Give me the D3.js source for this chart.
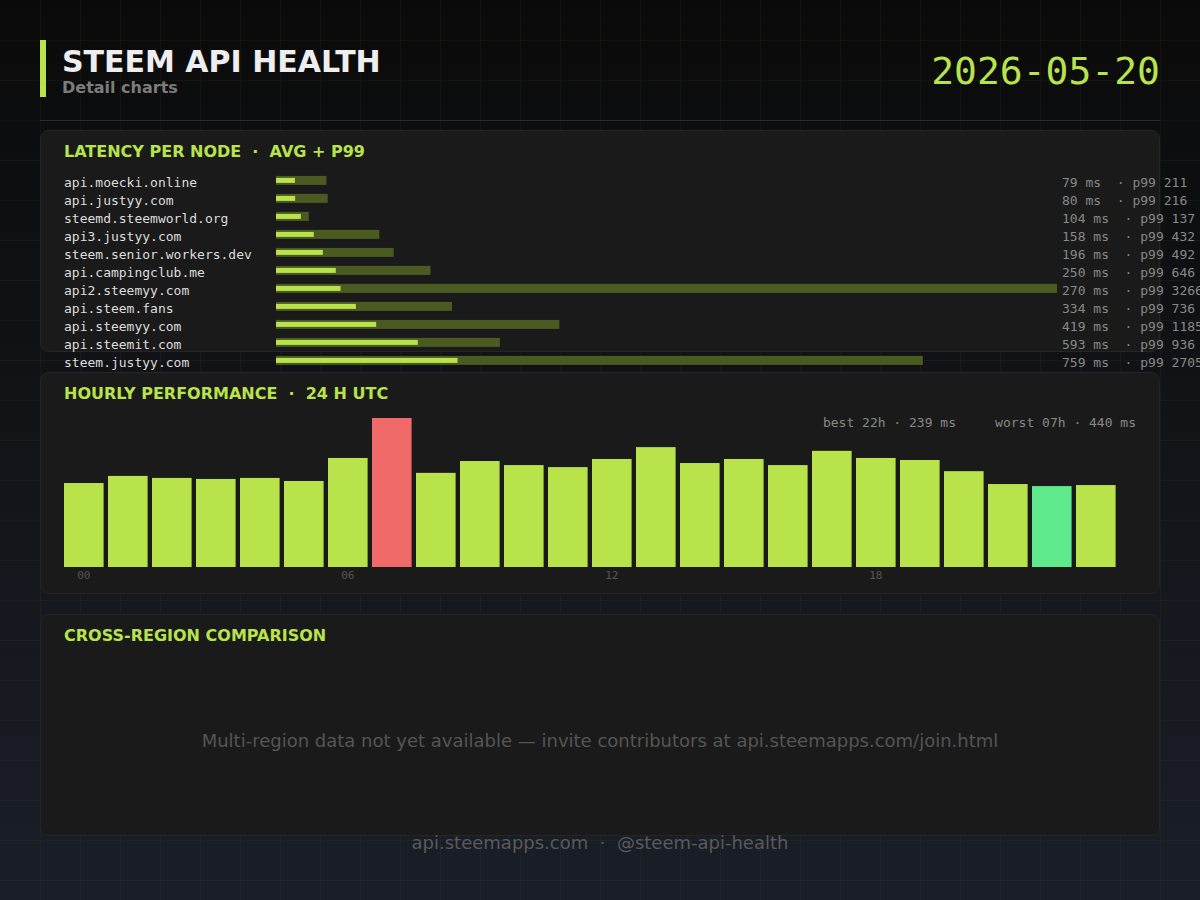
<!DOCTYPE html>
<html>
<head>
<meta charset="utf-8">
<script src="https://cdn.jsdelivr.net/npm/d3@7"></script>
<style>
  html, body { margin: 0; padding: 0; background: #0a0a0a; }
  svg { display: block; }
  text { white-space: pre; }
</style>
</head>
<body>
<svg id="chart" width="1200" height="900"></svg>
<script>
// latency per node (ms)
const nodes = ["api.moecki.online", "api.justyy.com", "steemd.steemworld.org", "api3.justyy.com",
    "steem.senior.workers.dev", "api.campingclub.me", "api2.steemyy.com", "api.steem.fans",
    "api.steemyy.com", "api.steemit.com", "steem.justyy.com"];
const avgMs = [79, 80, 104, 158, 196, 250, 270, 334, 419, 593, 759];
const p99Ms = [211, 216, 137, 432, 492, 646, 3266, 736, 1185, 936, 2705];

// hourly performance, 24h UTC (ms)
const hourLabels = ["00", "01", "02", "03", "04", "05", "06", "07", "08", "09", "10", "11",
    "12", "13", "14", "15", "16", "17", "18", "19", "20", "21", "22", "23"];
const hourlyMs = [248, 269, 263, 260, 263, 254, 322, 440, 278, 313, 301, 295,
    319, 354, 307, 319, 301, 343, 322, 316, 283, 245, 239, 242];
const hourTicks = ["00", "06", "12", "18"];

const reportDate = "2026-05-20";

const green = "#b8e34b";
const dimGreen = "#4b5a20";
const red = "#f06a6a";
const bestGreen = "#5eea8c";
const mono = "'DejaVu Sans Mono', monospace";
const sans = "'DejaVu Sans', sans-serif";

const svg = d3.select("#chart");

// background gradient + grid
let defs = svg.append("defs");
let grad = defs.append("linearGradient").attr("id", "bg").attr("x1", 0).attr("y1", 0).attr("x2", 0).attr("y2", 1);
grad.append("stop").attr("offset", "0%").attr("stop-color", "#0a0a0a");
grad.append("stop").attr("offset", "100%").attr("stop-color", "#1a1e27");
svg.append("rect").attr("width", 1200).attr("height", 900).attr("fill", "url(#bg)");

let grid = svg.append("g").attr("stroke", "rgba(184,227,75,0.045)").attr("stroke-width", 1);
grid.selectAll(".gx").data(d3.range(40, 1200, 40)).join("line")
    .attr("x1", d => d + 0.5).attr("x2", d => d + 0.5).attr("y1", 0).attr("y2", 900);
grid.selectAll(".gy").data(d3.range(40, 900, 40)).join("line")
    .attr("y1", d => d + 0.5).attr("y2", d => d + 0.5).attr("x1", 0).attr("x2", 1200);

// header
svg.append("rect").attr("x", 40).attr("y", 40).attr("width", 6).attr("height", 57).attr("fill", green);
svg.append("text").attr("x", 62).attr("y", 72).attr("font-family", sans).attr("font-weight", "bold")
    .attr("font-size", 30).attr("fill", "#eeeeee").text("STEEM API HEALTH");
svg.append("text").attr("x", 62).attr("y", 93).attr("font-family", sans).attr("font-weight", "bold")
    .attr("font-size", 16).attr("fill", "#7c7c7c").text("Detail charts");
svg.append("text").attr("x", 1160).attr("y", 84).attr("text-anchor", "end").attr("font-family", mono)
    .attr("font-size", 38).attr("fill", green).text(reportDate);
svg.append("line").attr("x1", 40).attr("x2", 1160).attr("y1", 120.5).attr("y2", 120.5)
    .attr("stroke", "#2a2a2a").attr("stroke-width", 1);

// panels
function panel(y, title) {
    svg.append("rect").attr("x", 40.5).attr("y", y + 0.5).attr("width", 1119).attr("height", 221)
        .attr("rx", 8).attr("fill", "#1a1a1a").attr("stroke", "#252525");
    svg.append("text").attr("x", 64).attr("y", y + 26.5).attr("font-family", sans).attr("font-weight", "bold")
        .attr("font-size", 16).attr("fill", green).text(title);
}
panel(130, "LATENCY PER NODE  ·  AVG + P99");
panel(372, "HOURLY PERFORMANCE  ·  24 H UTC");
panel(614, "CROSS-REGION COMPARISON");

/*********** LATENCY PER NODE ***********/
let x = d3.scaleLinear().domain([0, d3.max(p99Ms)]).range([276, 1057]);
let rows = svg.append("g").selectAll("g").data(nodes).join("g")
    .attr("transform", (d, i) => `translate(0,${180.4 + i * 18})`);
rows.append("text").attr("x", 64).attr("y", 6.3).attr("font-family", mono).attr("font-size", 13)
    .attr("fill", "#dddddd").text(d => d);
rows.append("rect").attr("x", x(0)).attr("y", -4.5).attr("height", 9)
    .attr("width", (d, i) => x(p99Ms[i]) - x(0)).attr("fill", dimGreen);
rows.append("rect").attr("x", x(0)).attr("y", -2.5).attr("height", 5)
    .attr("width", (d, i) => x(avgMs[i]) - x(0)).attr("fill", green);
rows.append("text").attr("x", 1062).attr("y", 6.3).attr("font-family", mono).attr("font-size", 13)
    .attr("fill", "#888888").text((d, i) => `${avgMs[i]} ms  · p99 ${p99Ms[i]}`);

/*********** HOURLY PERFORMANCE ***********/
let hx = d3.scaleBand().domain(hourLabels).range([64, 64 + 44 * 23.9]).paddingInner(0.1).paddingOuter(0);
let hy = d3.scaleLinear().domain([0, d3.max(hourlyMs)]).range([567, 418]);
let bestIdx = d3.minIndex(hourlyMs), worstIdx = d3.maxIndex(hourlyMs);

svg.append("g").selectAll("rect").data(hourlyMs).join("rect")
    .attr("x", (d, i) => hx(hourLabels[i]))
    .attr("width", hx.bandwidth())
    .attr("y", d => hy(d))
    .attr("height", d => hy(0) - hy(d))
    .attr("fill", (d, i) => i === worstIdx ? red : (i === bestIdx ? bestGreen : green));

svg.append("g").selectAll("text").data(hourTicks).join("text")
    .attr("x", d => hx(d) + hx.bandwidth() / 2).attr("y", 579).attr("text-anchor", "middle")
    .attr("font-family", mono).attr("font-size", 11).attr("fill", "#555555").text(d => d);

svg.append("text").attr("x", 1136).attr("y", 427).attr("text-anchor", "end")
    .attr("font-family", mono).attr("font-size", 13).attr("fill", "#888888")
    .text(`best ${hourLabels[bestIdx]}h · ${hourlyMs[bestIdx]} ms     worst ${hourLabels[worstIdx]}h · ${hourlyMs[worstIdx]} ms`);

/*********** CROSS-REGION ***********/
svg.append("text").attr("x", 600).attr("y", 747).attr("text-anchor", "middle")
    .attr("font-family", sans).attr("font-size", 18).attr("fill", "#555555")
    .text("Multi-region data not yet available — invite contributors at api.steemapps.com/join.html");

// footer
svg.append("text").attr("x", 600).attr("y", 849).attr("text-anchor", "middle")
    .attr("font-family", sans).attr("font-size", 18).attr("fill", "#5a5a5a")
    .text("api.steemapps.com  ·  @steem-api-health");
</script>
</body>
</html>
